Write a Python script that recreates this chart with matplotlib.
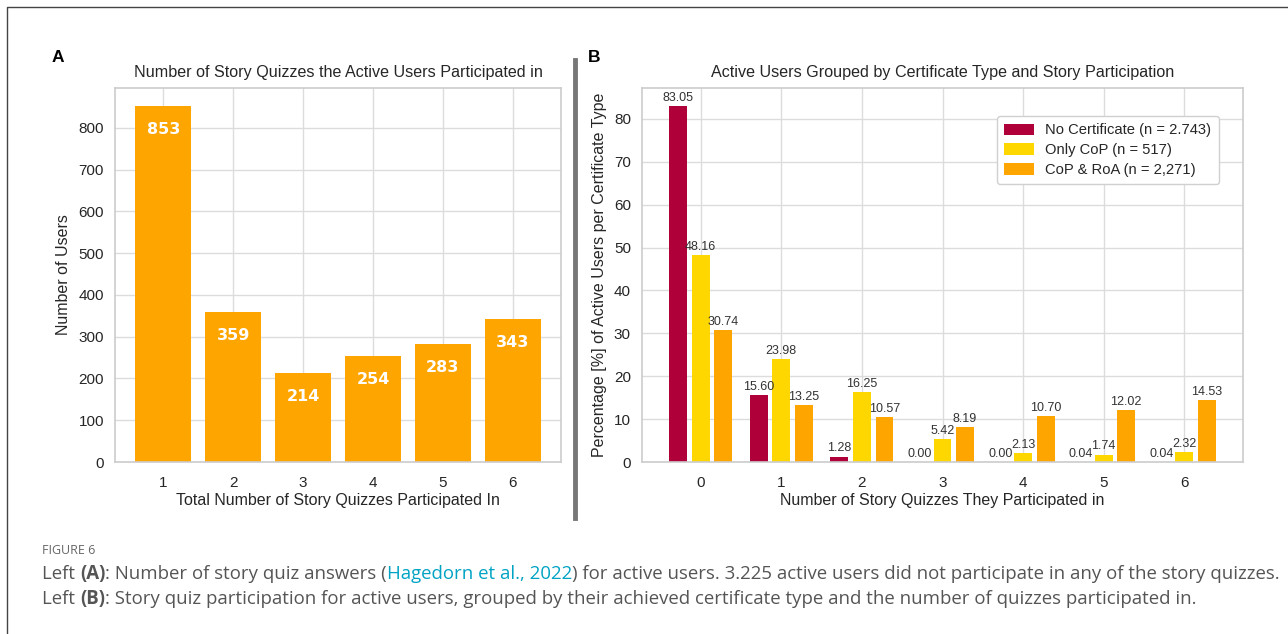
import matplotlib
matplotlib.use("Agg")
import matplotlib.pyplot as plt
import numpy as np
from matplotlib.lines import Line2D

# ---------------- data ----------------
quiz_counts = [1, 2, 3, 4, 5, 6]
users_per_count = [853, 359, 214, 254, 283, 343]

quiz_numbers = [0, 1, 2, 3, 4, 5, 6]
no_cert = [83.05, 15.60, 1.28, 0.00, 0.00, 0.04, 0.04]
only_cop = [48.16, 23.98, 16.25, 5.42, 2.13, 1.74, 2.32]
cop_roa = [30.74, 13.25, 10.57, 8.19, 10.70, 12.02, 14.53]
series_labels = ["No Certificate (n = 2.743)", "Only CoP (n = 517)", "CoP & RoA (n = 2,271)"]

title_a = "Number of Story Quizzes the Active Users Participated in"
title_b = "Active Users Grouped by Certificate Type and Story Participation"

# ---------------- style ----------------
W, H = 1288, 634
DPI = 100
plt.rcParams['font.family'] = ['Liberation Sans', 'DejaVu Sans']
TXT = '#262626'
GRID = '#dcdcdc'
SPINE = '#cccccc'

fig = plt.figure(figsize=(W / DPI, H / DPI), dpi=DPI)
fig.patch.set_facecolor('white')

def px_axes(l, t, r, b):
    return fig.add_axes([l / W, 1 - b / H, (r - l) / W, (b - t) / H])

def style(ax):
    ax.set_facecolor('white')
    ax.set_axisbelow(True)
    ax.grid(True, color=GRID, linewidth=1.0)
    for s in ax.spines.values():
        s.set_color(SPINE)
        s.set_linewidth(1.2)
    ax.tick_params(axis='both', length=0, labelsize=11, colors=TXT, pad=8)
    ax.tick_params(axis='x', pad=10)

# ---------------- panel A ----------------
axA = px_axes(115, 88, 561, 462)
style(axA)
barsA = axA.bar(quiz_counts, users_per_count, width=0.8, color='#ffa500', zorder=2)
for x, v in zip(quiz_counts, users_per_count):
    axA.annotate(str(v), (x, v), xytext=(0, -17), textcoords='offset points',
                 ha='center', va='center', color='white', fontsize=11.5,
                 fontweight='bold', family='DejaVu Sans', zorder=3)
axA.set_yticks(np.arange(0, 801, 100))
axA.set_xticks(quiz_counts)
axA.set_title(title_a, fontsize=11.6, color=TXT, pad=8)
axA.set_xlabel("Total Number of Story Quizzes Participated In", fontsize=11.5, color=TXT, labelpad=2)
axA.set_ylabel("Number of Users", fontsize=11.5, color=TXT, labelpad=5)

# ---------------- panel B ----------------
axB = px_axes(642, 88, 1243, 462)
style(axB)
x = np.array(quiz_numbers, dtype=float)
bw = 0.22
off = 0.28
colors = ['#b0003a', '#ffd700', '#ffa500']
for i, (vals, col, lab) in enumerate(zip([no_cert, only_cop, cop_roa], colors, series_labels)):
    bars = axB.bar(x + (i - 1) * off, vals, width=bw, color=col, label=lab, zorder=2)
    axB.bar_label(bars, fmt='%.2f', fontsize=9, color='#333333', padding=1.5)
axB.set_xticks(quiz_numbers)
axB.set_yticks(np.arange(0, 81, 10))
axB.set_title(title_b, fontsize=11.6, color=TXT, pad=8)
axB.set_xlabel("Number of Story Quizzes They Participated in", fontsize=11.5, color=TXT, labelpad=2)
axB.set_ylabel("Percentage [%] of Active Users per Certificate Type", fontsize=11.5, color=TXT, labelpad=5)
leg = axB.legend(loc='upper right', bbox_to_anchor=(0.972, 0.945), fontsize=10.6,
                 frameon=True, fancybox=True, framealpha=1, edgecolor='#d0d0d0',
                 handlelength=2.0, handleheight=0.8, borderpad=0.5, labelspacing=0.4)
for t in leg.get_texts():
    t.set_color(TXT)

# ---------------- panel letters and separator ----------------
fig.text(52 / W, 1 - 57 / H, "A", fontsize=12.5, fontweight='bold', va='center', color='black')
fig.text(588 / W, 1 - 57 / H, "B", fontsize=12.5, fontweight='bold', va='center', color='black')
fig.add_artist(Line2D([575 / W, 575 / W], [1 - 60 / H, 1 - 518 / H], color='#777777', linewidth=3.5))

# figure frame (left and top)
fig.add_artist(Line2D([7 / W, 7 / W, 1.0], [0.0, 1 - 7 / H, 1 - 7 / H], color='#444444', linewidth=1.0))

# ---------------- caption ----------------
fig.text(42 / W, 1 - 551 / H, "FIGURE 6", fontsize=9, color='#666666', va='center',
         family=['Open Sans', 'DejaVu Sans'])

renderer = fig.canvas.get_renderer()
CAP = '#555555'
LINK = '#00a3c4'

def rich_line(segments, x0, y, size):
    xpx = x0
    for txt, col, wt in segments:
        t = fig.text(xpx / W, 1 - y / H, txt, fontsize=size, color=col, fontweight=wt,
                     va='center', ha='left', family=['Open Sans', 'DejaVu Sans'])
        bb = t.get_window_extent(renderer=renderer)
        xpx += bb.width

line1 = [("Left ", CAP, 'normal'), ("(A)", CAP, 'bold'),
         (": Number of story quiz answers (", CAP, 'normal'),
         ("Hagedorn et al., 2022", LINK, 'normal'),
         (") for active users. 3.225 active users did not participate in any of the story quizzes.", CAP, 'normal')]
line2 = [("Left ", CAP, 'normal'), ("(B)", CAP, 'bold'),
         (": Story quiz participation for active users, grouped by their achieved certificate type and the number of quizzes participated in.", CAP, 'normal')]
rich_line(line1, 42, 574, 13.4)
rich_line(line2, 42, 599, 13.4)

fig.savefig("out.png", dpi=DPI, facecolor='white')
